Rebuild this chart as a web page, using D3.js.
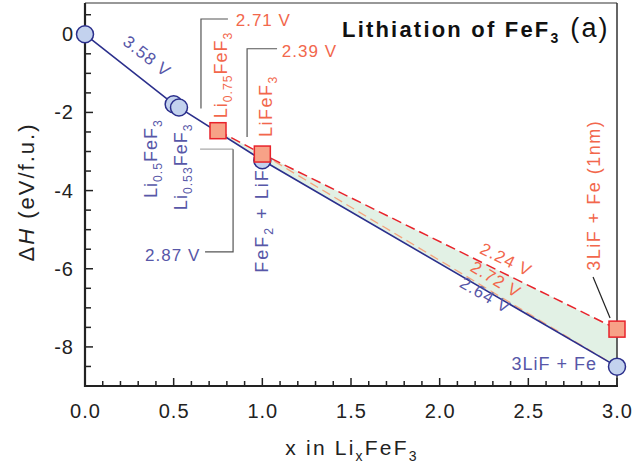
<!DOCTYPE html>
<html><head><meta charset="utf-8">
<script src="https://cdn.jsdelivr.net/npm/d3@7"></script>
<style>
body{margin:0;background:#fff;}
text{font-family:"Liberation Sans",Arial,sans-serif;}
</style></head>
<body><svg id="c" width="632" height="470"></svg>
<script>
// ---- data ----
const groundX = [0, 0.5, 0.53, 1, 3];
const groundY = [0, -1.79, -1.876, -3.225, -8.505];
const hullX = [0, 0.5, 1, 3];
const hullY = [0, -1.79, -3.225, -8.505];
const metaX = [0.75, 1, 3];
const metaY = [-2.4675, -3.065, -7.545];
const altX = [1, 3];
const altY = [-3.065, -8.505];
const xTicks = [0, 0.5, 1, 1.5, 2, 2.5, 3];
const yTicks = [0, -2, -4, -6, -8];

const svg = d3.select("#c");
const X0 = 85, X1 = 617, Y0 = 3, Y1 = 386;
const x = d3.scaleLinear().domain([0, 3]).range([X0, X1]);
const y = d3.scaleLinear().domain([-9, 0.8]).range([Y1, Y0]);

const BLUE = "#2b2f8c", BLUET = "#5757a8", RED = "#e8232b", ORT = "#f2674c";

// green fill between metastable path and hull from 0.75
const hullAt = v => { for (let i=0;i<hullX.length-1;i++){ if(v>=hullX[i]&&v<=hullX[i+1]){const t=(v-hullX[i])/(hullX[i+1]-hullX[i]);return hullY[i]+t*(hullY[i+1]-hullY[i]);}} return 0; };
const fillPts = metaX.map((v,i)=>[v,metaY[i]]);
const back = [[3,hullAt(3)],[1,hullAt(1)],[0.75,hullAt(0.75)]];
svg.append("path").attr("d", d3.line().x(d=>x(d[0])).y(d=>y(d[1]))(fillPts.concat(back))+"Z")
  .attr("fill","#e2f1e5").attr("stroke","none");

// frame top/right
svg.append("line").attr("x1",X0).attr("x2",X1).attr("y1",Y0).attr("y2",Y0).attr("stroke","#333").attr("stroke-width",1.2);
svg.append("line").attr("x1",X1).attr("x2",X1).attr("y1",Y0).attr("y2",Y1).attr("stroke","#333").attr("stroke-width",1.5);

// axes
const xMinor = d3.range(0, 3.0001, 0.1);
const gx = svg.append("g").attr("transform",`translate(0,${Y1})`);
gx.selectAll("line.mi").data(xMinor).join("line").attr("x1",d=>x(d)).attr("x2",d=>x(d)).attr("y1",0)
  .attr("y2",d=>Math.abs(d*2-Math.round(d*2))<1e-6?-8:-5).attr("stroke","#222").attr("stroke-width",1.5);
gx.append("line").attr("x1",X0-1).attr("x2",X1+1).attr("y1",0).attr("y2",0).attr("stroke","#222").attr("stroke-width",2.2);
gx.selectAll("text").data(xTicks).join("text").attr("x",d=>x(d)+0.5).attr("y",32).attr("text-anchor","middle")
  .attr("font-size",20).attr("letter-spacing",1).attr("fill","#222").text(d=>d.toFixed(1));

const yMinor = d3.range(-9, 0.51, 0.5);
const gy = svg.append("g").attr("transform",`translate(${X0},0)`);
gy.selectAll("line.mi").data(yMinor).join("line").attr("y1",d=>y(d)).attr("y2",d=>y(d)).attr("x1",0)
  .attr("x2",d=>d%2===0?8:6).attr("stroke","#222").attr("stroke-width",1.5);
gy.append("line").attr("y1",Y0).attr("y2",Y1+1).attr("x1",0).attr("x2",0).attr("stroke","#222").attr("stroke-width",2.2);
gy.selectAll("text").data(yTicks).join("text").attr("x",-11).attr("y",d=>y(d)+7).attr("text-anchor","end")
  .attr("font-size",20).attr("letter-spacing",1).attr("fill","#222").text(d=>d===0?"0":"-"+Math.abs(d));

// axis labels
const xl = svg.append("text").attr("x",(X0+X1)/2+1).attr("y",455).attr("text-anchor","middle").attr("font-size",21).attr("letter-spacing",2.2).attr("fill","#222");
xl.append("tspan").text("x in Li");
xl.append("tspan").attr("font-size",14).attr("dy",6).text("x");
xl.append("tspan").attr("dy",-6).text("FeF");
xl.append("tspan").attr("font-size",14).attr("dy",6).text("3");
const yl = svg.append("text").attr("transform","translate(34,192) rotate(-90)").attr("text-anchor","middle").attr("font-size",22).attr("letter-spacing",2).attr("fill","#222");
yl.append("tspan").text("Δ");
yl.append("tspan").attr("font-style","italic").text("H");
yl.append("tspan").text(" (eV/f.u.)");

// lines
const line = d3.line().x(d=>x(d[0])).y(d=>y(d[1]));
svg.append("path").attr("d",line(altX.map((v,i)=>[v,altY[i]]))).attr("fill","none").attr("stroke","#f5a47e").attr("stroke-width",1.3).attr("stroke-dasharray","9,5");
svg.append("path").attr("d",line(metaX.map((v,i)=>[v,metaY[i]]))).attr("fill","none").attr("stroke",RED).attr("stroke-width",1.5).attr("stroke-dasharray","10,5");
svg.append("path").attr("d",line(hullX.map((v,i)=>[v,hullY[i]]))).attr("fill","none").attr("stroke",BLUE).attr("stroke-width",1.6);

// leaders
const leader = (pts, col, w) => svg.append("path").attr("d",line(pts)).attr("fill","none").attr("stroke",col).attr("stroke-width",w||1.2);
leader([[0.654,-1.9],[0.654,0.39],[0.806,0.39]],"#555");
leader([[0.914,-2.63],[0.914,-0.37],[1.083,-0.37]],"#555");
leader([[0.649,-2.94],[0.835,-2.94]],"#aaa");
leader([[0.835,-2.94],[0.835,-5.57],[0.677,-5.57]],"#555");
leader([[2.865,-6.21],[2.961,-7.26]],"#222");

// markers
const ground = groundX.map((v,i)=>[v,groundY[i]]);
svg.selectAll("circle.g").data(ground).join("circle").attr("cx",d=>x(d[0])).attr("cy",d=>y(d[1])).attr("r",8.5)
  .attr("fill","#c3d2ee").attr("stroke",BLUE).attr("stroke-width",1.5);
const meta = metaX.map((v,i)=>[v,metaY[i]]);
svg.selectAll("rect.m").data(meta).join("rect").attr("x",d=>x(d[0])-8).attr("y",d=>y(d[1])-8).attr("width",16).attr("height",16)
  .attr("fill","#f7a287").attr("stroke",RED).attr("stroke-width",1.5);

// texts
function rotLabel(xv, yv, parts, col, size, ls){
  const t = svg.append("text").attr("transform",`translate(${x(xv)},${y(yv)}) rotate(-90)`).attr("fill",col).attr("font-size",size).attr("letter-spacing",ls);
  parts.forEach((p,i)=>{
    const s = t.append("tspan").text(p[0]);
    if (p[1]) s.attr("font-size",size*0.68).attr("dy",5);
    else if (i>0 && parts[i-1][1]) s.attr("dy",-5);
  });
  return t;
}
rotLabel(0.405,-4.19,[["Li"],["0.5",1],["FeF"],["3",1]],BLUET,18,1);
rotLabel(0.575,-4.5,[["Li"],["0.53",1],["FeF"],["3",1]],BLUET,18,1);
rotLabel(0.8,-2.15,[["Li"],["0.75",1],["FeF"],["3",1]],ORT,18,1);
rotLabel(1.055,-2.63,[["LiFeF"],["3",1]],ORT,18,1.5);
rotLabel(1.03,-6.1,[["FeF"],["2",1],[" + LiF"]],BLUET,18,2);
rotLabel(2.905,-6.05,[["3LiF + Fe (1nm)"]],ORT,18,1.5);

const plain = (xv,yv,s,col,anchor,rot,fs)=>svg.append("text")
  .attr("transform",`translate(${x(xv)},${y(yv)})`+(rot?` rotate(${rot})`:""))
  .attr("text-anchor",anchor||"start").attr("fill",col).attr("font-size",fs||17).attr("letter-spacing",1).text(s);
plain(0.85,0.2,"2.71 V",ORT);
plain(1.11,-0.58,"2.39 V",ORT);
plain(0.65,-5.8,"2.87 V",BLUET,"end");
plain(2.888,-8.6,"3LiF + Fe",BLUET,"end",0,18);
const ang = v => Math.atan(v*(y(0)-y(1))/(x(1)-x(0)))*180/Math.PI;
plain(0.33,-0.68,"3.58 V",BLUET,"middle",ang(3.58));
plain(2.36,-5.9,"2.24 V",ORT,"middle",ang(2.24));
plain(2.3,-6.4,"2.72 V",ORT,"middle",ang(2.72));
plain(2.24,-6.8,"2.64 V",BLUET,"middle",ang(2.64));

// title
const tt = svg.append("text").attr("x",342).attr("y",37).attr("fill","#111").attr("font-size",22).attr("letter-spacing",2.2);
tt.append("tspan").attr("font-weight","bold").text("Lithiation of FeF");
tt.append("tspan").attr("font-weight","bold").attr("font-size",14).attr("dy",6).text("3");
tt.append("tspan").attr("dy",-6).attr("font-size",27).text(" (a)");
</script></body></html>
